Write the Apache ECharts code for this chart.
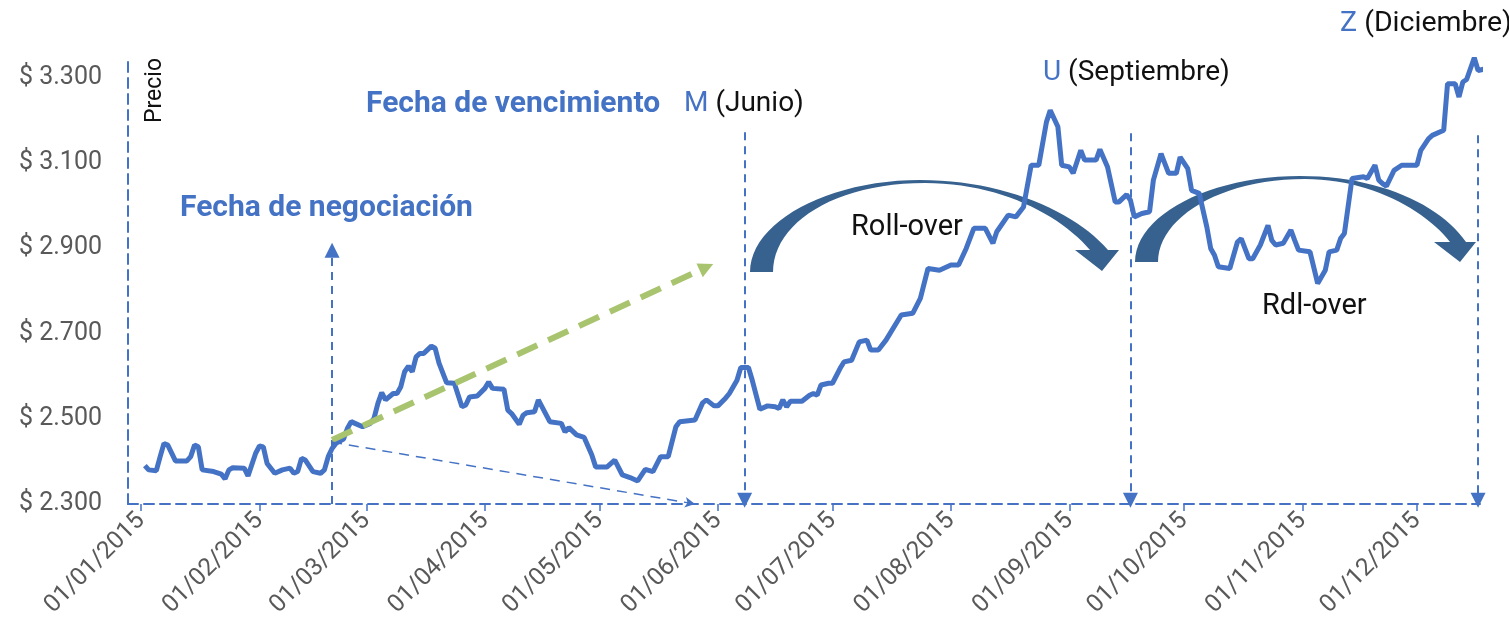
<!DOCTYPE html>
<html>
<head>
<meta charset="utf-8">
<title>Roll-over</title>
<script src="https://cdn.jsdelivr.net/npm/echarts@6/dist/echarts.min.js"></script>
<style>
  html, body { margin: 0; padding: 0; background: #fff; }
  #chart { width: 1509px; height: 634px; }
</style>
</head>
<body>
<div id="chart"></div>
<script>
// precio diario (lectura aproximada del gráfico)
var dates = [
  '2015-01-02','2015-01-03','2015-01-05','2015-01-06','2015-01-07','2015-01-08','2015-01-10','2015-01-13','2015-01-14','2015-01-15',
  '2015-01-16','2015-01-17','2015-01-20','2015-01-22','2015-01-23','2015-01-24','2015-01-25','2015-01-28','2015-01-29','2015-01-31',
  '2015-02-01','2015-02-02','2015-02-03','2015-02-05','2015-02-07','2015-02-09','2015-02-10','2015-02-11','2015-02-12','2015-02-13',
  '2015-02-15','2015-02-17','2015-02-18','2015-02-19','2015-02-20','2015-02-21','2015-02-23','2015-02-24','2015-02-25','2015-02-26',
  '2015-02-28','2015-03-02','2015-03-03','2015-03-04','2015-03-05','2015-03-06','2015-03-08','2015-03-09','2015-03-10','2015-03-11',
  '2015-03-12','2015-03-13','2015-03-14','2015-03-15','2015-03-16','2015-03-18','2015-03-19','2015-03-20','2015-03-22','2015-03-24',
  '2015-03-26','2015-03-27','2015-03-28','2015-03-30','2015-04-01','2015-04-02','2015-04-03','2015-04-06','2015-04-07','2015-04-08',
  '2015-04-10','2015-04-11','2015-04-12','2015-04-14','2015-04-15','2015-04-18','2015-04-21','2015-04-22','2015-04-23','2015-04-25',
  '2015-04-27','2015-04-29','2015-04-30','2015-05-03','2015-05-05','2015-05-07','2015-05-09','2015-05-11','2015-05-13','2015-05-15',
  '2015-05-17','2015-05-19','2015-05-21','2015-05-22','2015-05-26','2015-05-28','2015-05-29','2015-05-31','2015-06-01','2015-06-03',
  '2015-06-04','2015-06-06','2015-06-07','2015-06-09','2015-06-10','2015-06-12','2015-06-14','2015-06-16','2015-06-17','2015-06-18',
  '2015-06-19','2015-06-20','2015-06-23','2015-06-25','2015-06-26','2015-06-27','2015-06-28','2015-06-30','2015-07-01','2015-07-03',
  '2015-07-04','2015-07-06','2015-07-08','2015-07-10','2015-07-11','2015-07-13','2015-07-15','2015-07-19','2015-07-22','2015-07-24',
  '2015-07-26','2015-07-29','2015-08-01','2015-08-03','2015-08-05','2015-08-07','2015-08-10','2015-08-12','2015-08-13','2015-08-16',
  '2015-08-18','2015-08-20','2015-08-22','2015-08-24','2015-08-26','2015-08-27','2015-08-29','2015-08-30','2015-09-01','2015-09-02',
  '2015-09-04','2015-09-05','2015-09-08','2015-09-09','2015-09-11','2015-09-13','2015-09-14','2015-09-16','2015-09-17','2015-09-18',
  '2015-09-20','2015-09-22','2015-09-23','2015-09-25','2015-09-27','2015-09-29','2015-09-30','2015-10-02','2015-10-03','2015-10-05',
  '2015-10-07','2015-10-08','2015-10-09','2015-10-10','2015-10-13','2015-10-15','2015-10-16','2015-10-18','2015-10-19','2015-10-21',
  '2015-10-23','2015-10-24','2015-10-25','2015-10-27','2015-10-29','2015-10-30','2015-10-31','2015-11-03','2015-11-05','2015-11-07',
  '2015-11-08','2015-11-10','2015-11-11','2015-11-12','2015-11-14','2015-11-17','2015-11-18','2015-11-20','2015-11-21','2015-11-22',
  '2015-11-23','2015-11-25','2015-11-27','2015-12-01','2015-12-02','2015-12-04','2015-12-05','2015-12-08','2015-12-09','2015-12-11',
  '2015-12-12','2015-12-13','2015-12-14','2015-12-16','2015-12-17','2015-12-19'
];
var prices = [
  2390, 2380, 2378, 2411, 2442, 2438, 2401, 2401, 2411, 2438,
  2434, 2380, 2376, 2370, 2359, 2380, 2385, 2384, 2366, 2419,
  2436, 2434, 2395, 2372, 2380, 2384, 2372, 2376, 2407, 2403,
  2376, 2372, 2380, 2411, 2430, 2442, 2452, 2477, 2493, 2489,
  2481, 2489, 2501, 2536, 2561, 2544, 2559, 2559, 2575, 2610,
  2623, 2610, 2645, 2653, 2653, 2670, 2665, 2630, 2584, 2583,
  2528, 2532, 2551, 2553, 2571, 2586, 2571, 2569, 2520, 2512,
  2487, 2508, 2514, 2516, 2544, 2493, 2489, 2469, 2479, 2462,
  2456, 2415, 2387, 2387, 2403, 2368, 2362, 2354, 2381, 2376,
  2411, 2411, 2481, 2493, 2497, 2537, 2544, 2530, 2530, 2548,
  2559, 2590, 2620, 2620, 2590, 2522, 2530, 2528, 2524, 2544,
  2528, 2541, 2541, 2555, 2559, 2555, 2579, 2583, 2583, 2618,
  2633, 2637, 2680, 2684, 2661, 2661, 2684, 2743, 2747, 2782,
  2852, 2848, 2860, 2860, 2899, 2946, 2946, 2911, 2938, 2977,
  2973, 2996, 3094, 3094, 3195, 3223, 3184, 3094, 3090, 3075,
  3129, 3106, 3106, 3131, 3090, 3008, 3008, 3025, 3012, 2973,
  2981, 2985, 3059, 3121, 3075, 3075, 3113, 3086, 3035, 3028,
  2949, 2899, 2883, 2856, 2852, 2914, 2922, 2875, 2875, 2907,
  2953, 2918, 2907, 2911, 2942, 2918, 2895, 2891, 2817, 2848,
  2891, 2895, 2922, 2934, 3063, 3067, 3063, 3094, 3059, 3051,
  3045, 3082, 3094, 3094, 3129, 3156, 3164, 3176, 3285, 3285,
  3254, 3289, 3295, 3346, 3316, 3320
];

// fechas clave
var tradeDate = '2015-02-20';
var tradeTop = 2895;
var expiryDates = ['2015-06-08', '2015-09-17', '2015-12-17'];
var expiryTops = [3171, 3169, 3164];
var expiryBottom = 2309;
// flechas desde la fecha de negociación
var greenFrom = ['2015-02-20', 2450];
var greenTo = ['2015-05-29', 2855];
var thinFrom = ['2015-02-20', 2445];
var thinTo = ['2015-05-26', 2300];

var BLUE = '#4472c4';
var ARROW = '#37628f';
var FONT = 'Roboto, "Noto Sans", sans-serif';

function fmtPrice(v) {
  var s = String(v);
  return '$ ' + s.slice(0, -3) + '.' + s.slice(-3);
}
function pad(n) { return n < 10 ? '0' + n : '' + n; }

// contorno de las flechas curvas: punto inicial + tramos (bezier cúbica o recta)
function outline(start, segs) {
  var pts = [start];
  var p = start;
  segs.forEach(function (s) {
    if (s.length === 1) {
      pts.push(s[0]);
      p = s[0];
      return;
    }
    for (var k = 1; k <= 24; k++) {
      var t = k / 24, u = 1 - t;
      pts.push([
        u * u * u * p[0] + 3 * u * u * t * s[0][0] + 3 * u * t * t * s[1][0] + t * t * t * s[2][0],
        u * u * u * p[1] + 3 * u * u * t * s[0][1] + 3 * u * t * t * s[1][1] + t * t * t * s[2][1]
      ]);
    }
    p = s[2];
  });
  return pts;
}

var rollArrow1 = outline([750, 272], [
  [[750, 222], [828, 180], [920, 180]],
  [[1005, 180], [1075, 212], [1108, 250]],
  [[1119, 250]], [[1102, 271]], [[1075, 250]], [[1090, 250]],
  [[1060, 215], [1000, 183], [925, 183]],
  [[835, 183], [773, 223], [773, 272]]
]);
var rollArrow2 = outline([1135, 262], [
  [[1135, 215], [1210, 176], [1300, 176]],
  [[1380, 176], [1440, 205], [1466, 242]],
  [[1476, 242]], [[1460, 262]], [[1434, 242]], [[1450, 242]],
  [[1425, 210], [1370, 179], [1305, 179]],
  [[1220, 179], [1158, 218], [1158, 262]]
]);

var seriesData = dates.map(function (d, i) { return [d, prices[i]]; });

var markData = [];
markData.push([
  { coord: [tradeDate, 2300], symbol: 'none' },
  { coord: [tradeDate, tradeTop], symbol: 'triangle', symbolSize: 15 }
]);
expiryDates.forEach(function (d, i) {
  markData.push([
    { coord: [d, expiryTops[i]], symbol: 'none' },
    { coord: [d, expiryBottom], symbol: 'triangle', symbolSize: 15 }
  ]);
});
markData.push([
  { coord: greenFrom, symbol: 'none', lineStyle: { color: '#a9c46e', width: 6, type: [22, 12] } },
  { coord: greenTo, symbol: 'triangle', symbolSize: 15 }
]);
markData.push([
  { coord: thinFrom, symbol: 'none', lineStyle: { color: BLUE, width: 1.5, type: [10, 7] } },
  { coord: thinTo, symbol: 'arrow', symbolSize: [8, 10] }
]);

var chart = echarts.init(document.getElementById('chart'));

var option = {
  backgroundColor: '#fff',
  animation: false,
  grid: { left: 128, right: 29, top: 56, bottom: 130 },
  xAxis: {
    type: 'time',
    min: new Date(2014, 11, 28, 14).getTime(),
    max: new Date(2015, 11, 17, 12).getTime(),
    minInterval: 28 * 86400000,
    maxInterval: 31 * 86400000,
    axisLine: { lineStyle: { color: BLUE, width: 2, type: [10, 6] } },
    axisTick: { show: true, length: 7, lineStyle: { color: BLUE, width: 1.5 } },
    splitLine: { show: false },
    axisLabel: {
      rotate: 45,
      margin: 13,
      color: '#595959',
      fontSize: 24.5,
      fontFamily: FONT,
      hideOverlap: false,
      formatter: function (v) {
        var d = new Date(v);
        if (d.getDate() !== 1) return '';
        return pad(d.getDate()) + '/' + pad(d.getMonth() + 1) + '/' + d.getFullYear();
      }
    }
  },
  yAxis: {
    type: 'value',
    min: 2300,
    max: 3350,
    interval: 200,
    axisLine: { show: true, lineStyle: { color: BLUE, width: 2, type: [10, 6] } },
    axisTick: { show: false },
    splitLine: { show: false },
    axisLabel: {
      margin: 26,
      color: '#595959',
      fontSize: 25,
      fontFamily: FONT,
      showMaxLabel: false,
      formatter: function (v) { return v > 3300 ? '' : fmtPrice(v); }
    }
  },
  series: [{
    type: 'line',
    data: seriesData,
    showSymbol: false,
    clip: false,
    lineStyle: { color: BLUE, width: 5 },
    itemStyle: { color: BLUE },
    emphasis: { disabled: true },
    markLine: {
      silent: true,
      animation: false,
      label: { show: false },
      emphasis: { disabled: true },
      lineStyle: { color: BLUE, width: 2, type: [8, 6] },
      data: markData
    }
  }],
  graphic: [
    { type: 'polygon', shape: { points: rollArrow1 }, style: { fill: ARROW } },
    { type: 'polygon', shape: { points: rollArrow2 }, style: { fill: ARROW } },
    {
      type: 'text', x: 155, y: 123, rotation: Math.PI / 2,
      style: { text: 'Precio', fill: '#111', fontSize: 23, fontFamily: FONT, align: 'left', verticalAlign: 'middle' }
    },
    {
      type: 'text', x: 180, y: 208,
      style: { text: 'Fecha de negociación', fill: BLUE, fontSize: 30, fontWeight: 'bold', fontFamily: FONT, verticalAlign: 'middle' }
    },
    {
      type: 'text', x: 366, y: 104,
      style: { text: 'Fecha de vencimiento', fill: BLUE, fontSize: 30, fontWeight: 'bold', fontFamily: FONT, verticalAlign: 'middle' }
    },
    {
      type: 'text', x: 684, y: 104,
      style: { text: '{c|M} (Junio)', fill: '#111', fontSize: 28, fontFamily: FONT, verticalAlign: 'middle',
        rich: { c: { fill: BLUE, fontSize: 28, fontFamily: FONT } } }
    },
    {
      type: 'text', x: 1043, y: 73,
      style: { text: '{c|U} (Septiembre)', fill: '#111', fontSize: 28, fontFamily: FONT, verticalAlign: 'middle',
        rich: { c: { fill: BLUE, fontSize: 28, fontFamily: FONT } } }
    },
    {
      type: 'text', x: 1340, y: 24,
      style: { text: '{c|Z} (Diciembre)', fill: '#111', fontSize: 28.5, fontFamily: FONT, verticalAlign: 'middle',
        rich: { c: { fill: BLUE, fontSize: 28.5, fontFamily: FONT } } }
    },
    {
      type: 'text', x: 851, y: 228,
      style: { text: 'Roll-over', fill: '#111', fontSize: 29, fontFamily: FONT, verticalAlign: 'middle' }
    },
    {
      type: 'text', x: 1262, y: 307,
      style: { text: 'Rdl-over', fill: '#111', fontSize: 29, fontFamily: FONT, verticalAlign: 'middle' }
    }
  ]
};

chart.setOption(option);
</script>
</body>
</html>
